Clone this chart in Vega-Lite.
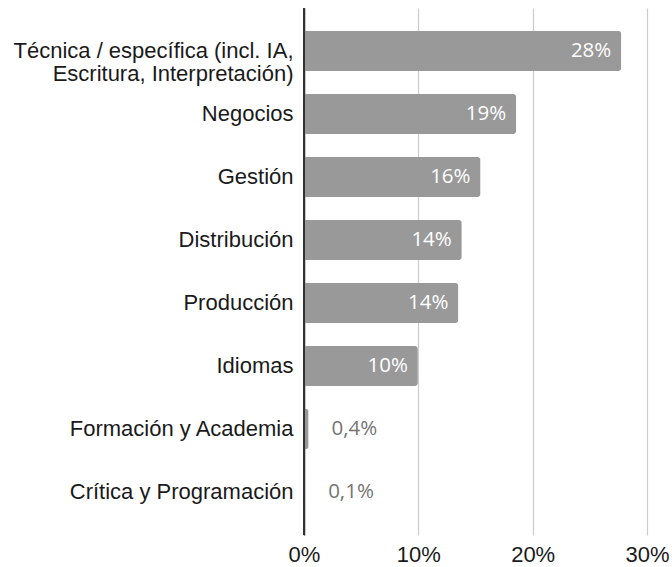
{
  "$schema": "https://vega.github.io/schema/vega-lite/v6.json",
  "autosize": "none",
  "width": 343,
  "height": 527,
  "padding": {"left": 304, "top": 8, "right": 25, "bottom": 32},
  "background": "white",
  "config": {"view": {"stroke": null}},
  "data": {
    "values": [
      {"categoria": "Técnica / específica (incl. IA,\nEscritura, Interpretación)", "valor": 0.2775, "etiqueta": "28%"},
      {"categoria": "Negocios", "valor": 0.1856, "etiqueta": "19%"},
      {"categoria": "Gestión", "valor": 0.1544, "etiqueta": "16%"},
      {"categoria": "Distribución", "valor": 0.138, "etiqueta": "14%"},
      {"categoria": "Producción", "valor": 0.135, "etiqueta": "14%"},
      {"categoria": "Idiomas", "valor": 0.0996, "etiqueta": "10%"},
      {"categoria": "Formación y Academia", "valor": 0.004, "etiqueta": "0,4%"},
      {"categoria": "Crítica y Programación", "valor": 0.001, "etiqueta": "0,1%"}
    ]
  },
  "encoding": {
    "y": {
      "field": "categoria",
      "type": "nominal",
      "sort": null,
      "scale": {"paddingInner": 0.365, "paddingOuter": 0.365},
      "axis": {
        "title": null,
        "labelExpr": "split(datum.label, '\\n')",
        "labelFont": "Liberation Sans",
        "labelFontSize": 22,
        "labelColor": "#1a1a1a",
        "labelLineHeight": 23,
        "labelLimit": 400,
        "labelPadding": 11,
        "ticks": false,
        "domainColor": "#333333",
        "domainWidth": 1.5,
        "grid": false
      }
    },
    "x": {
      "field": "valor",
      "type": "quantitative",
      "scale": {"domain": [0, 0.3], "nice": false},
      "axis": {
        "title": null,
        "format": ".0%",
        "values": [0, 0.1, 0.2, 0.3],
        "labelFont": "Liberation Sans",
        "labelFontSize": 22,
        "labelColor": "#1a1a1a",
        "labelPadding": 9,
        "ticks": false,
        "domain": false,
        "grid": true,
        "gridColor": "#cccccc",
        "gridWidth": 1.2,
        "labelFlush": false
      }
    }
  },
  "layer": [
    {
      "mark": {"type": "bar", "color": "#999999", "cornerRadiusEnd": 3}
    },
    {
      "transform": [{"filter": "datum.valor >= 0.05"}],
      "mark": {"type": "text", "align": "right", "baseline": "middle", "dx": -10, "color": "white", "font": "Open Sans", "fontSize": 20.5},
      "encoding": {"text": {"field": "etiqueta"}}
    },
    {
      "transform": [{"filter": "datum.valor < 0.05"}],
      "mark": {"type": "text", "align": "left", "baseline": "middle", "dx": 23, "color": "#757575", "font": "Open Sans", "fontSize": 20.5},
      "encoding": {"text": {"field": "etiqueta"}}
    },
    {
      "mark": {"type": "rule", "color": "#333333", "strokeWidth": 1.5},
      "encoding": {"x": {"datum": 0}, "y": null}
    }
  ]
}
